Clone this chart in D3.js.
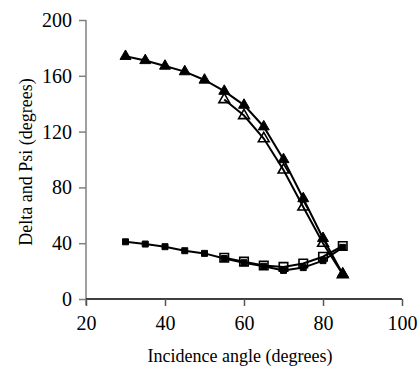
<!DOCTYPE html>
<html><head><meta charset="utf-8">
<script src="https://cdn.jsdelivr.net/npm/d3@7"></script>
<style>body{margin:0;background:#fff}svg{display:block}</style>
</head><body><svg id="c" width="418" height="369" style="font-family:'Liberation Serif','Times New Roman',Times,serif"></svg>
<script>
const angleExp = [30,35,40,45,50,55,60,65,70,75,80,85];
const deltaExp = [174,171,167,163,157,149,139,123.5,100,72,43.5,18];
const angleCalc = [55,60,65,70,75,80,85];
const deltaCalc = [143,131.5,115,92.5,66,40,17.5];
const psiExp = [41,39.4,37.5,34.6,32.7,29,26,23.5,20.5,22.5,27.5,37];
const psiCalc = [29.6,26.8,24,23,25.5,30.3,38];
const xTicks = [20,40,60,80,100];
const yTicks = [0,40,80,120,160,200];

const FONT = "'Liberation Serif','Times New Roman',Times,serif";
const svg = d3.select("#c");
const x = d3.scaleLinear().domain([20,100]).range([86,402]);
const y = d3.scaleLinear().domain([0,200]).range([299,20]);

const ya = svg.append("g").attr("transform","translate(86,0)")
  .call(d3.axisLeft(y).tickValues(yTicks).tickSize(7).tickPadding(7));
ya.attr("font-family",null).attr("font-size",null);
ya.select(".domain").attr("stroke","#808080").attr("stroke-width",1.5).attr("d","M0,20V305");
ya.selectAll(".tick line").attr("stroke","#808080").attr("stroke-width",1.5);
ya.selectAll("text").style("font-family",FONT).style("font-size","20px").attr("fill","#000");

const xa = svg.append("g").attr("transform","translate(0,299)")
  .call(d3.axisBottom(x).tickValues(xTicks).tickSize(7).tickPadding(10));
xa.attr("font-family",null).attr("font-size",null);
xa.select(".domain").attr("stroke","#000").attr("stroke-width",1.5).attr("d","M86,0H402");
xa.selectAll(".tick line").attr("stroke","#555").attr("stroke-width",1.5);
xa.selectAll("text").style("font-family",FONT).style("font-size","20px").attr("fill","#000");

svg.append("text").attr("x",240).attr("y",362).attr("text-anchor","middle")
  .style("font-family",FONT).style("font-size","18px").text("Incidence angle (degrees)");
svg.append("text").attr("transform","translate(32,162) rotate(-90)").attr("text-anchor","middle")
  .style("font-family",FONT).style("font-size","18px").text("Delta and Psi (degrees)");

const series = [
  {xs:angleExp, ys:deltaExp, sym:d3.symbolTriangle, size:52, fill:"#000"},
  {xs:angleCalc, ys:deltaCalc, sym:d3.symbolTriangle, size:50, fill:"none"},
  {xs:angleExp, ys:psiExp, sym:d3.symbolSquare, size:36, fill:"#000"},
  {xs:angleCalc, ys:psiCalc, sym:d3.symbolSquare, size:72, fill:"none"}
];
const line = d3.line().x(d=>x(d[0])).y(d=>y(d[1]));
series.forEach(s=>{
  const pts = s.xs.map((v,i)=>[v,s.ys[i]]);
  svg.append("path").attr("d",line(pts)).attr("fill","none").attr("stroke","#000").attr("stroke-width",2);
});
series.forEach(s=>{
  const pts = s.xs.map((v,i)=>[v,s.ys[i]]);
  svg.append("g").selectAll("path").data(pts).join("path")
    .attr("transform",d=>`translate(${x(d[0])},${y(d[1])})`)
    .attr("d",d3.symbol().type(s.sym).size(s.size))
    .attr("fill",s.fill).attr("stroke","#000").attr("stroke-width",s.fill==="none"?1.6:1);
});
</script></body></html>
